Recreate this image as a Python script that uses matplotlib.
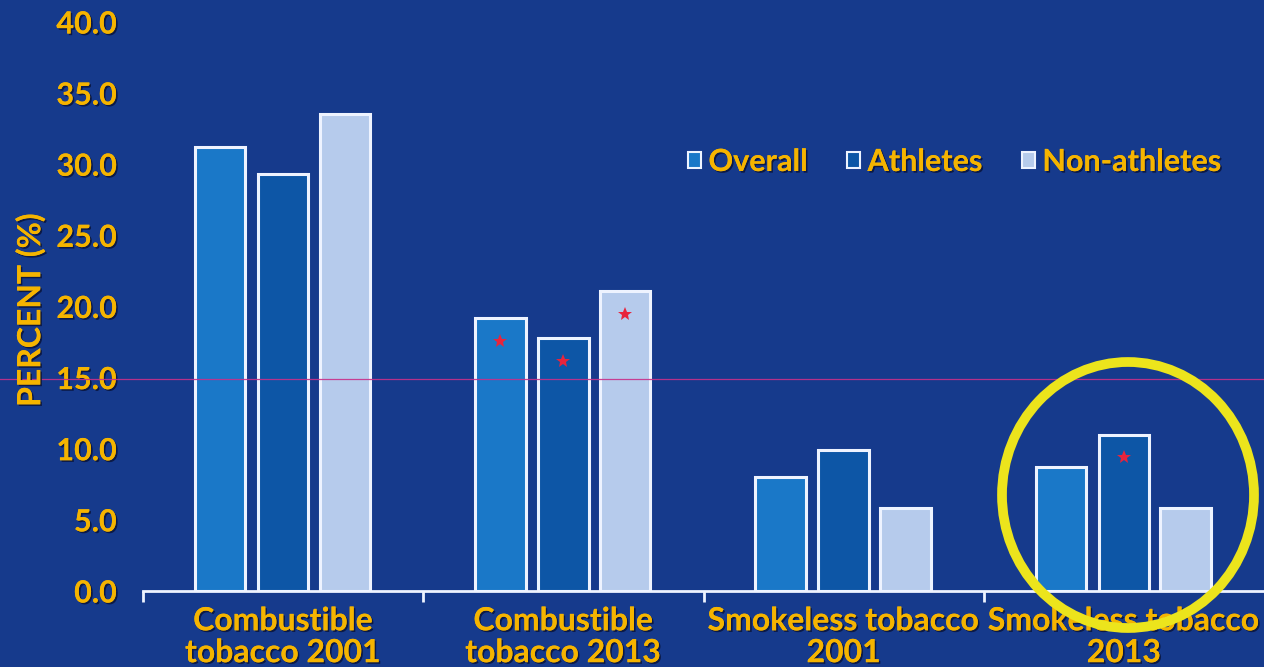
import matplotlib
matplotlib.use("Agg")
import matplotlib.pyplot as plt
import numpy as np
from matplotlib import patheffects as pe
from matplotlib.patches import Ellipse, Patch
from matplotlib.lines import Line2D

categories = ["Combustible\ntobacco 2001", "Combustible\ntobacco 2013",
              "Smokeless tobacco\n2001", "Smokeless tobacco\n2013"]
series = ["Overall", "Athletes", "Non-athletes"]
overall = [31.2, 19.2, 8.0, 8.7]
athletes = [29.3, 17.8, 9.9, 11.0]
non_athletes = [33.5, 21.1, 5.8, 5.8]
# significance stars (category index, series index)
stars = [(1, 0), (1, 1), (1, 2), (3, 1)]
yticks = [0, 5, 10, 15, 20, 25, 30, 35, 40]

bg = "#163a8c"
colors = ["#1a78c8", "#0d56a6", "#b6cbec"]
txt = "#f5b400"
shadow = [pe.withSimplePatchShadow(offset=(1.2, -1.2), shadow_rgbFace="#0a1640", alpha=0.9), pe.Normal()]

plt.rcParams['font.family'] = ['Lato', 'DejaVu Sans']

fig = plt.figure(figsize=(12.64, 6.67), dpi=100, facecolor=bg)
ax = fig.add_axes([143/1264, 1-591/667, 1-143/1264, (591-22)/667])
ax.set_facecolor(bg)

x = np.arange(len(categories))
offsets = [-0.225, 0.0, 0.22]
width = 0.18
vals = [overall, athletes, non_athletes]
for i, (v, c) in enumerate(zip(vals, colors)):
    ax.bar(x + offsets[i], v, width, color=c, edgecolor="#eef3ff", linewidth=2.2, zorder=3)

for ci, si in stars:
    ax.plot(x[ci] + offsets[si], vals[si][ci] - 1.6, marker="*", color="#e8243c",
            markersize=10, markeredgewidth=0, zorder=4)

ax.set_xlim(-0.5, 3.5)
ax.set_ylim(0, 40)
ax.set_yticks(yticks)
ax.set_yticklabels([f"{t:.1f}" for t in yticks])
ax.set_xticks(x)
ax.set_xticklabels(categories)
ax.set_xticks(np.arange(-0.5, 3.5, 1.0), minor=True)
ax.tick_params(axis="x", which="major", length=0, pad=11)
ax.tick_params(axis="x", which="minor", length=8, width=2, color="#eef3ff", direction="out")
ax.tick_params(axis="y", length=0, pad=19)
for lab in ax.get_yticklabels():
    lab.set_color(txt); lab.set_fontsize(22); lab.set_fontweight("bold"); lab.set_path_effects(shadow)
for lab in ax.get_xticklabels():
    lab.set_color(txt); lab.set_fontsize(23); lab.set_fontweight("bold"); lab.set_path_effects(shadow)
    lab.set_linespacing(1.12)

for s in ["top", "right", "left"]:
    ax.spines[s].set_visible(False)
ax.spines["bottom"].set_color("#eef3ff")
ax.spines["bottom"].set_linewidth(2)
ax.spines["bottom"].set_zorder(5)

fig.text(30/1264, 1-310/667, "PERCENT (%)", rotation=90, color=txt, fontsize=23,
         fontweight="bold", ha="center", va="center", path_effects=shadow)

handles = [Patch(facecolor=c, edgecolor="#eef3ff", linewidth=1.5) for c in colors]
leg = ax.legend(handles, series, loc="center left", bbox_to_anchor=(688/1264, 1-162/667),
                bbox_transform=fig.transFigure, ncol=3, frameon=False,
                handlelength=0.42, handleheight=0.42, handletextpad=0.25, columnspacing=1.3,
                borderaxespad=0, borderpad=0,
                prop={"weight": "bold", "size": 22})
for t in leg.get_texts():
    t.set_color(txt); t.set_path_effects(shadow)

# thin magenta scan line
fig.add_artist(Line2D([0, 1], [1-379/667, 1-379/667], transform=fig.transFigure,
                      color="#c8308a", linewidth=0.9, alpha=0.9, zorder=1))

# yellow annotation circle
fig.add_artist(Ellipse((1128/1264, 1-495/667), 252/1264, 266/667, transform=fig.transFigure,
                       fill=False, edgecolor="#ece41c", linewidth=7, zorder=10))

fig.savefig("out.png", dpi=100, facecolor=bg)
